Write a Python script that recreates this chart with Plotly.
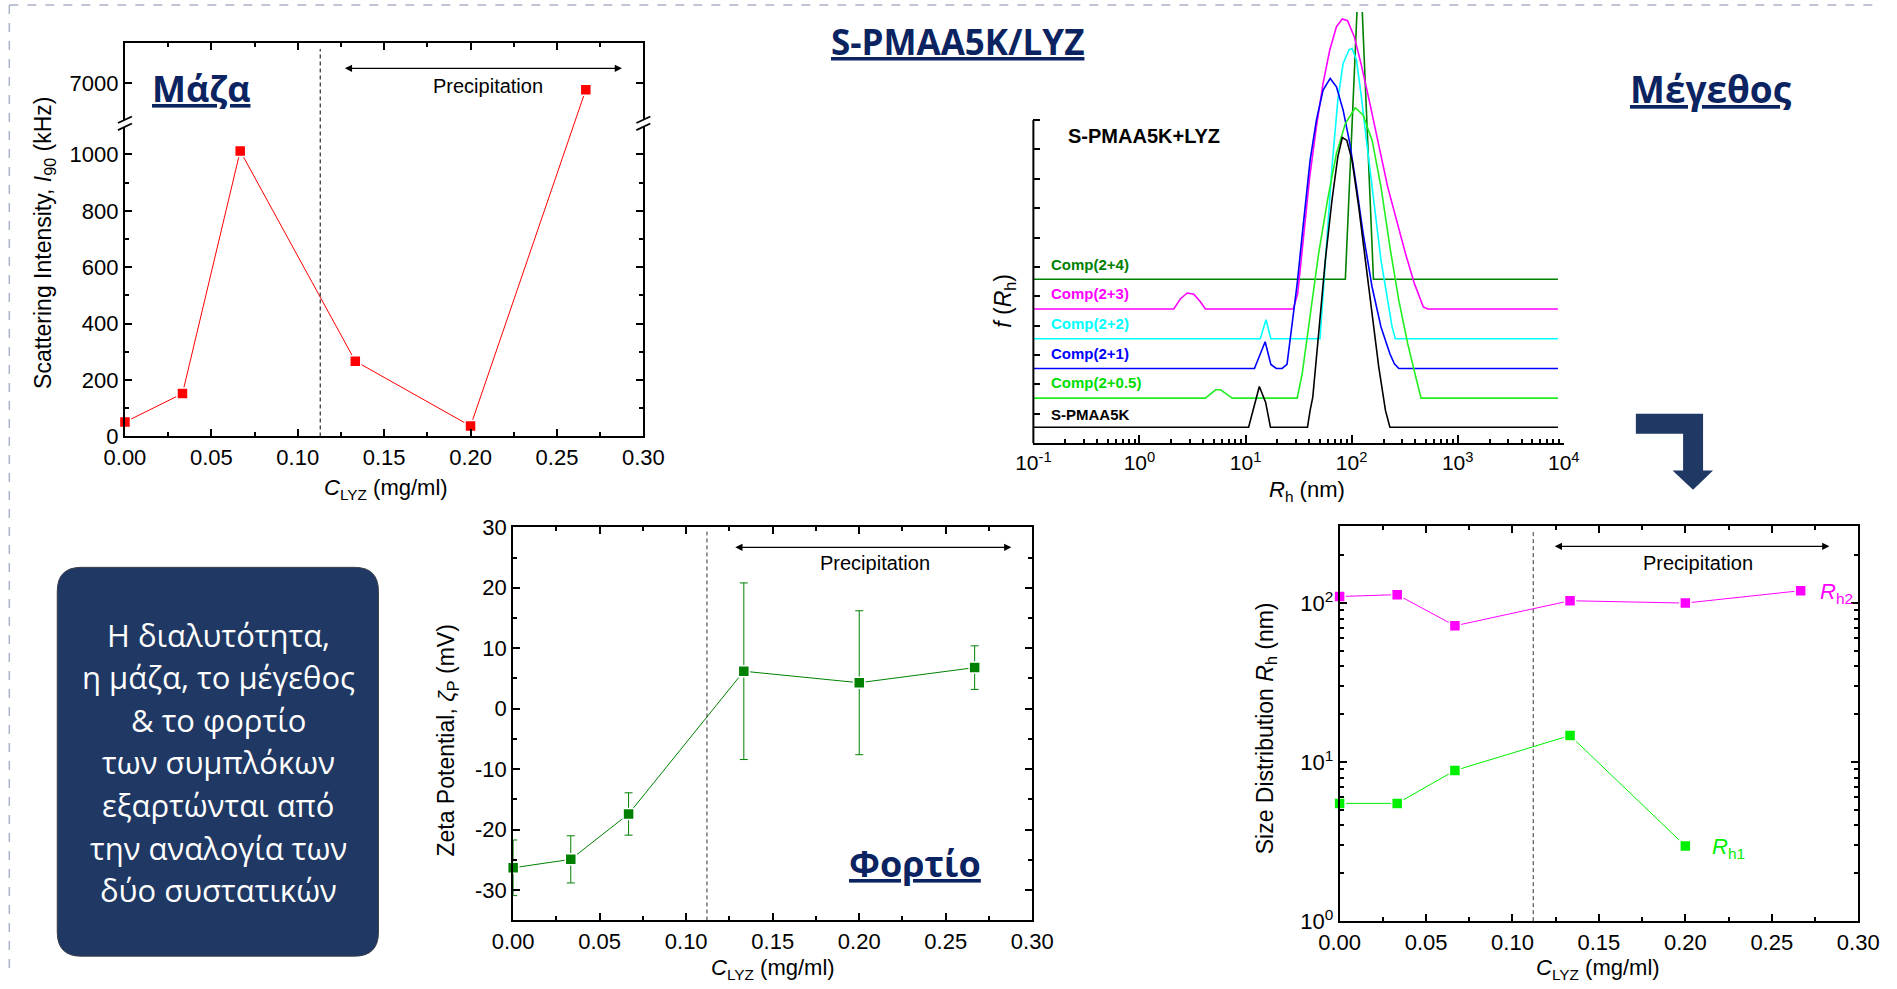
import plotly.graph_objects as go

W, H = 1897, 989
# plot-area calibration (pixel in reference -> paper fraction)
PL, PW, PT, PH = 18.7, 1857.8, 12.1, 962.7
def px(x):
    return (x - PL) / PW
def py(y):
    return 1 - (y - PT) / PH

FONT = "Liberation Sans, Arial, sans-serif"
HEAD = "Open Sans, Noto Sans, sans-serif"
NAVY = "#0b2461"
BOX = "#203864"

# ---------------- data ----------------
c_lyz = [0.0, 0.0333, 0.0667, 0.1333, 0.2, 0.2667]
intensity = [51, 152, 1012, 267, 37, 6920]
zeta = [-26.3, -24.9, -17.4, 6.2, 4.3, 6.8]
zeta_err = [4.6, 3.9, 3.5, 14.6, 11.9, 3.6]
rh2 = [110, 113, 72, 103.5, 100, 119.7]
c_rh1 = [0.0, 0.0333, 0.0667, 0.1333, 0.2]
rh1 = [5.5, 5.5, 8.86, 14.7, 2.97]
c_precip = 0.113

# size distributions: log10(Rh/nm) and f(Rh) (stacked, arbitrary units)
black_logR = [-1, 1.029, 1.130, 1.189, 1.235, 1.584, 1.609, 1.634, 1.689, 1.752, 1.815, 1.870, 1.912,
              1.954, 2.004, 2.067, 2.130, 2.193, 2.256, 2.319, 2.361, 3.945]
black_f = [0.545, 0.545, 1.932, 1.398, 0.545, 0.545, 1.114, 1.568, 3.727, 6.227, 8.273, 9.75, 10.409,
           10.318, 9.636, 8.045, 6.227, 4.409, 2.591, 1.114, 0.545, 0.545]
lime_logR = [-1, 0.622, 0.718, 0.765, 0.874, 1.487, 1.534, 1.609, 1.689, 1.773, 1.857, 1.941, 2.034,
             2.109, 2.193, 2.277, 2.361, 2.445, 2.529, 2.613, 2.655, 3.945]
lime_f = [1.534, 1.534, 1.818, 1.818, 1.534, 1.534, 2.364, 4.409, 6.455, 8.273, 9.864, 10.886, 11.420,
          11.170, 10.318, 8.727, 6.682, 4.864, 3.386, 2.136, 1.534, 1.534]
blue_logR = [-1, 1.084, 1.185, 1.239, 1.290, 1.345, 1.391, 1.437, 1.487, 1.542, 1.609, 1.668, 1.731,
             1.798, 1.857, 1.920, 1.983, 2.046, 2.109, 2.193, 2.277, 2.361, 2.403, 2.445, 3.945]
blue_f = [2.545, 2.545, 3.455, 2.682, 2.545, 2.545, 2.682, 3.955, 5.432, 7.364, 9.636, 11.0, 12.023,
          12.420, 12.136, 11.341, 10.205, 8.727, 7.136, 5.318, 3.955, 3.045, 2.705, 2.545, 2.545]
cyan_logR = [-1, 1.139, 1.193, 1.239, 1.702, 1.752, 1.815, 1.870, 1.920, 1.975, 2.004, 2.046, 2.088,
             2.151, 2.214, 2.277, 2.340, 2.382, 2.412, 3.945]
cyan_f = [3.557, 3.557, 4.205, 3.557, 3.557, 6.0, 9.409, 11.682, 12.932, 13.386, 13.443, 13.045, 11.909,
          9.977, 8.045, 6.227, 4.864, 3.955, 3.557, 3.557]
mag_logR = [-1, 0.324, 0.387, 0.450, 0.513, 0.576, 0.622, 1.450, 1.492, 1.542, 1.605, 1.668, 1.731,
            1.794, 1.857, 1.912, 1.962, 2.025, 2.088, 2.172, 2.256, 2.340, 2.424, 2.508, 2.592, 2.676,
            2.718, 3.945]
mag_f = [4.568, 4.568, 4.920, 5.114, 5.068, 4.807, 4.568, 4.568, 5.091, 6.909, 9.068, 10.773, 12.25,
         13.386, 14.182, 14.443, 14.386, 13.841, 12.932, 11.568, 10.091, 8.727, 7.591, 6.455, 5.432,
         4.636, 4.568, 4.568]
dg_logR = [-1, 1.941, 2.076, 2.206, 3.945]
dg_f = [5.58, 5.58, 16.8, 5.58, 5.58]

dist_names = ["Comp(2+4)", "Comp(2+3)", "Comp(2+2)", "Comp(2+1)", "Comp(2+0.5)", "S-PMAA5K"]
dist_colors = ["#008000", "#ff00ff", "#00ffff", "#0000ff", "#22ee22", "#000000"]
dist_logR = [dg_logR, mag_logR, cyan_logR, blue_logR, lime_logR, black_logR]
dist_f = [dg_f, mag_f, cyan_f, blue_f, lime_f, black_f]
dist_label_f = [6.09, 5.09, 4.07, 3.05, 2.05, 0.98]

box_lines = ["Η διαλυτότητα,", "η μάζα, το μέγεθος", "& το φορτίο", "των συμπλόκων",
             "εξαρτώνται από", "την αναλογία των", "δύο συστατικών"]

# broken axis for the intensity plot
LOW_TOP, UP_LO, UP_HI, Y_TOP = 1110, 6500, 7500, 1394
K = (Y_TOP - LOW_TOP) / (UP_HI - UP_LO)
def brk(v):
    return v if v <= LOW_TOP else LOW_TOP + (v - UP_LO) * K

fig = go.Figure()

# ---------------- traces ----------------
fig.add_trace(go.Scatter(
    x=c_lyz, y=[brk(v) for v in intensity], mode="lines+markers", xaxis="x", yaxis="y",
    line=dict(color="#ff0000", width=1),
    marker=dict(symbol="square", size=11, color="#ff0000", line=dict(color="white", width=1.5)),
    cliponaxis=False, showlegend=False))

for lr, f, col in zip(dist_logR, dist_f, dist_colors):
    fig.add_trace(go.Scatter(
        x=[10 ** v for v in lr], y=f, mode="lines", xaxis="x2", yaxis="y2",
        line=dict(color=col, width=1.6), showlegend=False))

fig.add_trace(go.Scatter(
    x=c_lyz, y=zeta, mode="lines+markers", xaxis="x3", yaxis="y3",
    line=dict(color="#008000", width=1),
    error_y=dict(type="data", array=zeta_err, color="#008000", thickness=1, width=4),
    marker=dict(symbol="square", size=11, color="#008000", line=dict(color="white", width=1.5)),
    cliponaxis=False, showlegend=False))

fig.add_trace(go.Scatter(
    x=c_lyz, y=rh2, mode="lines+markers", xaxis="x4", yaxis="y4",
    line=dict(color="#ff00ff", width=1),
    marker=dict(symbol="square", size=11, color="#ff00ff", line=dict(color="white", width=1.5)),
    cliponaxis=False, showlegend=False))
fig.add_trace(go.Scatter(
    x=c_rh1, y=rh1, mode="lines+markers", xaxis="x4", yaxis="y4",
    line=dict(color="#00f000", width=1),
    marker=dict(symbol="square", size=11, color="#00f000", line=dict(color="white", width=1.5)),
    cliponaxis=False, showlegend=False))

# ---------------- axes ----------------
tickfont = dict(family=FONT, size=22, color="black")
def lin_axis(**kw):
    d = dict(showline=True, linecolor="black", linewidth=2, mirror="ticks", ticks="inside",
             ticklen=7, tickwidth=1.5, tickcolor="black", showgrid=False, zeroline=False,
             tickfont=tickfont)
    d.update(kw)
    return d

xt = [0, 0.05, 0.10, 0.15, 0.20, 0.25, 0.30]
xt_txt = ["%.2f" % v for v in xt]
xminor = dict(tickvals=[0.025, 0.075, 0.125, 0.175, 0.225, 0.275], ticks="inside", ticklen=4,
              tickwidth=1.5, tickcolor="black")

dist_unit = 29.33  # pixels per f unit
dist_top = (442.7 - PT) / dist_unit

mass_ticks = [0, 200, 400, 600, 800, 1000, 7000]
fig.update_layout(
    xaxis=lin_axis(domain=[px(122.8), px(642.0)], range=[0, 0.30], tickvals=xt, ticktext=xt_txt,
                   minor=xminor, anchor="y"),
    yaxis=lin_axis(domain=[py(436), py(43.3)], range=[0, Y_TOP],
                   tickvals=[brk(v) for v in mass_ticks], ticktext=[str(v) for v in mass_ticks],
                   minor=dict(tickvals=[100, 300, 500, 700, 900], ticks="inside", ticklen=4,
                              tickwidth=1.5, tickcolor="black"), anchor="x"),
    xaxis2=dict(type="log", domain=[px(1032.6), px(1563.8)], range=[-1, 4], anchor="y2",
                showline=True, linecolor="black", linewidth=2, ticks="inside", ticklen=8,
                tickwidth=1.5, tickcolor="black", showgrid=False, zeroline=False,
                tickvals=[0.1, 1, 10, 100, 1000, 10000],
                ticktext=["10<sup>-1</sup>", "10<sup>0</sup>", "10<sup>1</sup>", "10<sup>2</sup>",
                          "10<sup>3</sup>", "10<sup>4</sup>"],
                tickfont=dict(family=FONT, size=21, color="black"),
                minor=dict(tickvals=[m * 10 ** e for e in range(-1, 4) for m in range(2, 10)],
                           ticks="inside", ticklen=4, tickwidth=1.5, tickcolor="black")),
    yaxis2=dict(domain=[py(442.7), 1.0], range=[0, dist_top], anchor="x2", showline=False,
                showgrid=False, zeroline=False, ticks="inside", ticklen=7, tickwidth=1.5,
                tickcolor="black", tickvals=list(range(1, 12)), showticklabels=False),
    xaxis3=lin_axis(domain=[px(511.6), px(1031.5)], range=[0, 0.30], tickvals=xt, ticktext=xt_txt,
                    minor=xminor, anchor="y3"),
    yaxis3=lin_axis(domain=[py(919.3), py(526.7)], range=[-35, 30],
                    tickvals=[-30, -20, -10, 0, 10, 20, 30],
                    ticktext=["-30", "-20", "-10", "0", "10", "20", "30"],
                    minor=dict(tickvals=[-25, -15, -5, 5, 15, 25], ticks="inside", ticklen=4,
                               tickwidth=1.5, tickcolor="black"), anchor="x3"),
    xaxis4=lin_axis(domain=[px(1339.3), px(1858.7)], range=[0, 0.30], tickvals=xt, ticktext=xt_txt,
                    minor=xminor, anchor="y4"),
    yaxis4=lin_axis(type="log", domain=[py(920), py(525.7)], range=[0, 2.483],
                    tickvals=[1, 10, 100],
                    ticktext=["10<sup>0</sup>", "10<sup>1</sup>", "10<sup>2</sup>"],
                    minor=dict(tickvals=[m * 10 ** e for e in range(0, 3) for m in range(2, 10)],
                               ticks="inside", ticklen=4, tickwidth=1.5, tickcolor="black"),
                    anchor="x4"),
)

# ---------------- shapes ----------------
shapes = []
# page border (dashed)
shapes.append(dict(type="line", xref="paper", yref="paper", x0=px(7), x1=1, y0=py(5), y1=py(5),
                   line=dict(color="#aab3c6", width=1.5, dash="dash")))
shapes.append(dict(type="line", xref="paper", yref="paper", x0=px(7), x1=px(7), y0=py(5), y1=0,
                   line=dict(color="#aab3c6", width=1.5, dash="dash")))
# precipitation threshold dashed lines
shapes.append(dict(type="line", xref="x", yref="paper", x0=c_precip, x1=c_precip, y0=py(436),
                   y1=py(49), line=dict(color="black", width=1, dash="4px,3px")))
shapes.append(dict(type="line", xref="x3", yref="paper", x0=c_precip - 0.001, x1=c_precip - 0.001,
                   y0=py(919.3), y1=py(531), line=dict(color="#333333", width=1, dash="4px,3px")))
shapes.append(dict(type="line", xref="x4", yref="paper", x0=c_precip - 0.001, x1=c_precip - 0.001,
                   y0=py(920), y1=py(530), line=dict(color="#333333", width=1, dash="4px,3px")))
# left axis line of distribution plot
shapes.append(dict(type="line", xref="paper", yref="paper", x0=px(1032.6), x1=px(1032.6),
                   y0=py(442.7), y1=py(120), line=dict(color="black", width=2)))
# axis breaks of the intensity plot
for xb in (122.8, 642.0):
    shapes.append(dict(type="path", xref="paper", yref="paper",
                       path="M %f,%f L %f,%f L %f,%f L %f,%f Z" % (
                           px(xb - 7), py(123), px(xb + 7), py(116.5),
                           px(xb + 7), py(123.5), px(xb - 7), py(130)),
                       fillcolor="white", line=dict(width=0), layer="above"))
    for off in (0, 7):
        shapes.append(dict(type="line", xref="paper", yref="paper",
                           x0=px(xb - 7), y0=py(123 + off), x1=px(xb + 7), y1=py(116.5 + off),
                           line=dict(color="black", width=1.8)))
# rounded text box
x0, x1, y0, y1, r = 55, 376.7, 566.7, 955, 24
path = ("M %f,%f L %f,%f Q %f,%f %f,%f L %f,%f Q %f,%f %f,%f L %f,%f Q %f,%f %f,%f "
        "L %f,%f Q %f,%f %f,%f Z") % (
    px(x0 + r), py(y0), px(x1 - r), py(y0), px(x1), py(y0), px(x1), py(y0 + r),
    px(x1), py(y1 - r), px(x1), py(y1), px(x1 - r), py(y1),
    px(x0 + r), py(y1), px(x0), py(y1), px(x0), py(y1 - r),
    px(x0), py(y0 + r), px(x0), py(y0), px(x0 + r), py(y0))
shapes.append(dict(type="path", xref="paper", yref="paper", path=path, fillcolor=BOX,
                   line=dict(color="#3a3f4a", width=1)))
# bent arrow
pts = [(1636, 413.3), (1703.3, 413.3), (1703.3, 470), (1713.3, 470), (1693.3, 489.3),
       (1672.7, 470), (1683.3, 470), (1683.3, 433.3), (1636, 433.3)]
apath = "M " + " L ".join("%f,%f" % (px(a), py(b)) for a, b in pts) + " Z"
shapes.append(dict(type="path", xref="paper", yref="paper", path=apath, fillcolor=BOX,
                   line=dict(width=0)))
fig.update_layout(shapes=shapes)

# ---------------- annotations ----------------
ann = []
def txt(x, y, text, size, color="black", family=FONT, angle=0, xanchor="center", **kw):
    ann.append(dict(xref="paper", yref="paper", x=px(x), y=py(y), text=text, showarrow=False,
                    font=dict(family=family, size=size, color=color), textangle=angle,
                    xanchor=xanchor, yanchor="middle", **kw))

# headings
txt(957, 42, "<b><u>S-PMAA5K/LYZ</u></b>", 35, NAVY, HEAD)
txt(198.7, 88, "<b><u>Μάζα</u></b>", 36, NAVY, HEAD)
txt(1711.5, 88, "<b><u>Μέγεθος</u></b>", 37, NAVY, HEAD)
txt(914, 862, "<b><u>Φορτίο</u></b>", 36, NAVY, HEAD)

# axis titles
cl = "<i>C</i><sub>LYZ</sub> (mg/ml)"
txt(384, 488, cl, 22)
txt(42.4, 243, "Scattering Intensity, <i>I</i><sub>90</sub> (kHz)", 23, angle=-90)
txt(1307, 490, "<i>R</i><sub>h</sub> (nm)", 22)
txt(1003.6, 300, "<i>f</i> (<i>R</i><sub>h</sub>)", 23, angle=-90)
txt(771.5, 968, cl, 22)
txt(446, 740, "Zeta Potential, <i>ζ</i><sub>P</sub> (mV)", 23, angle=-90)
txt(1598, 968, cl, 22)
txt(1266, 727, "Size Distribution <i>R</i><sub>h</sub> (nm)", 23, angle=-90)

# distribution labels
txt(1065, 136, "<b>S-PMAA5K+LYZ</b>", 20, xanchor="left")
for name, col, fl in zip(dist_names, dist_colors, dist_label_f):
    ypix = 442.7 - fl * dist_unit
    txt(1048, ypix, "<b>%s</b>" % name, 15, "#00dd00" if col == "#22ee22" else col, xanchor="left")

# Rh labels
txt(1818, 592, "<i>R</i><sub>h2</sub>", 22, "#ff00ff", xanchor="left")
txt(1710, 847, "<i>R</i><sub>h1</sub>", 22, "#00f000", xanchor="left")

# box text, one annotation per line
for i, line in enumerate(box_lines):
    txt(216, 634 + i * 42.5, line, 31, "white", HEAD)

# precipitation arrows + text
for xr, yr, x_a, x_b, x_t, y_arrow, y_text in [
        ("x", "y", 0.1264, 0.2876, 0.2102, 68.3, 85.7),
        ("x3", "y3", 0.1275, 0.2879, 0.2091, 546.7, 562.7),
        ("x4", "y4", 0.1236, 0.2833, 0.2071, 545.7, 562.3)]:
    ann.append(dict(xref=xr, yref="paper", x=x_b, y=py(y_arrow), axref=xr, ayref="pixel",
                    ax=x_a, ay=0, text="", showarrow=True, arrowhead=2, arrowside="end+start",
                    arrowsize=1.2, arrowwidth=1.2, arrowcolor="black", standoff=0, startstandoff=0))
    ann.append(dict(xref=xr, yref="paper", x=x_t, y=py(y_text), text="Precipitation",
                    showarrow=False, font=dict(family=FONT, size=20, color="black"),
                    xanchor="center", yanchor="middle"))

fig.update_layout(annotations=ann, width=W, height=H, margin=dict(l=0, r=0, t=0, b=0),
                  paper_bgcolor="white", plot_bgcolor="rgba(0,0,0,0)", showlegend=False)

fig.write_html("out.html", config={"displayModeBar": False},
               post_script="document.body.style.margin='0';document.body.style.padding='0';"
                           "document.body.style.overflow='hidden';")
